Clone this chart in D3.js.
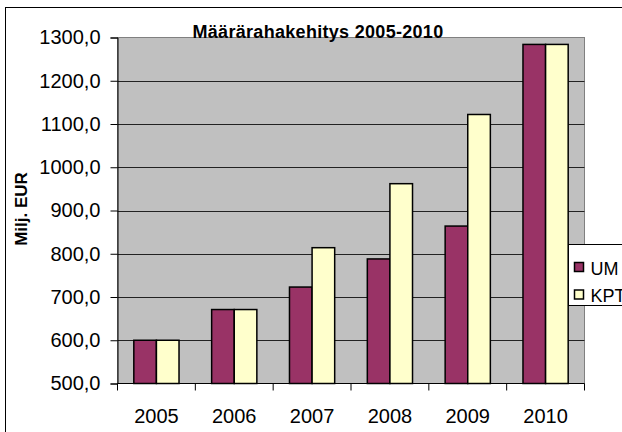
<!DOCTYPE html>
<html>
<head>
<meta charset="utf-8">
<script src="https://cdn.jsdelivr.net/npm/d3@7"></script>
<style>
  body { margin: 0; background: #fff; }
  text { font-family: "Liberation Sans", Arial, sans-serif; }
</style>
</head>
<body>
<div id="vis"></div>
<script>
var years = ["2005", "2006", "2007", "2008", "2009", "2010"];
var seriesNames = ["UM", "KPT"];
var umValues = [600, 671, 723, 788, 864, 1284];
var kptValues = [600, 671, 814, 962, 1122, 1284];
var yTicks = [500, 600, 700, 800, 900, 1000, 1100, 1200, 1300];
var colors = ["#993366", "#ffffcc"];

function draw() {
  var width = 622, height = 432;
  var left = 117.5, right = 584.5, top = 37.5, bottom = 383.5;

  var svg = d3.select("#vis").append("svg")
              .attr("width", width)
              .attr("height", height);

  // outer chart border
  svg.append("rect")
     .attr("x", 5.5).attr("y", 7.5)
     .attr("width", 640).attr("height", 440)
     .attr("fill", "#fff")
     .attr("stroke", "#000");

  var x0 = d3.scaleBand().domain(years).range([left, right]);
  var x1 = d3.scaleBand().domain(seriesNames).range([0, x0.bandwidth()])
             .paddingInner(0).paddingOuter(0.722);
  var y = d3.scaleLinear().domain([500, 1300]).range([bottom, top]);

  // plot area
  svg.append("rect")
     .attr("x", left).attr("y", top)
     .attr("width", right - left).attr("height", bottom - top)
     .attr("fill", "#c0c0c0")
     .attr("stroke", "#808080");

  // gridlines
  svg.append("g").selectAll("line")
     .data(yTicks.slice(1, -1))
     .join("line")
     .attr("x1", left).attr("x2", right)
     .attr("y1", function(d) { return Math.round(y(d)) + 0.5; })
     .attr("y2", function(d) { return Math.round(y(d)) + 0.5; })
     .attr("stroke", "#222");

  var data = years.map(function(yr, i) {
    return { year: yr, values: [umValues[i], kptValues[i]] };
  });

  var groups = svg.append("g").selectAll("g")
     .data(data)
     .join("g")
     .attr("transform", function(d) { return "translate(" + x0(d.year) + ",0)"; });

  groups.selectAll("rect")
     .data(function(d) { return d.values.map(function(v, j) { return { name: seriesNames[j], v: v, j: j }; }); })
     .join("rect")
     .attr("x", function(d) { return x1(d.name); })
     .attr("y", function(d) { return y(d.v); })
     .attr("width", x1.bandwidth())
     .attr("height", function(d) { return bottom - y(d.v); })
     .attr("fill", function(d) { return colors[d.j]; })
     .attr("stroke", "#000")
     .attr("stroke-width", 1.5);

  // y axis
  var yAxis = d3.axisLeft(y).tickValues(yTicks).tickSize(7).tickPadding(10)
                .tickFormat(function(d) { return d3.format(".1f")(d).replace(".", ","); });
  var gy = svg.append("g").attr("transform", "translate(" + left + ",0)").call(yAxis);
  gy.selectAll("text").attr("font-size", 20).attr("fill", "#000")
    .attr("font-family", "Liberation Sans, Arial, sans-serif");
  gy.selectAll("line, path").attr("stroke", "#000");

  // x axis
  var gx = svg.append("g").attr("transform", "translate(0," + bottom + ")");
  gx.append("line").attr("x1", left).attr("x2", right).attr("stroke", "#000");
  gx.selectAll("line.tick")
    .data(years.concat(["end"]))
    .join("line")
    .attr("class", "tick")
    .attr("x1", function(d, i) { return i < years.length ? x0(d) : right; })
    .attr("x2", function(d, i) { return i < years.length ? x0(d) : right; })
    .attr("y1", 0).attr("y2", 7)
    .attr("stroke", "#000");
  gx.selectAll("text")
    .data(years)
    .join("text")
    .attr("x", function(d) { return x0(d) + x0.bandwidth() / 2; })
    .attr("y", 39)
    .attr("text-anchor", "middle")
    .attr("font-size", 20)
    .text(function(d) { return d; });

  // title (overlaps the plot top, as in the original)
  svg.append("text")
     .attr("x", 318).attr("y", 38)
     .attr("text-anchor", "middle")
     .attr("font-size", 18)
     .attr("font-weight", "bold")
     .attr("letter-spacing", 0.3)
     .text("Määrärahakehitys 2005-2010");

  // y axis title
  svg.append("text")
     .attr("transform", "translate(27,209) rotate(-90)")
     .attr("text-anchor", "middle")
     .attr("font-size", 17)
     .attr("font-weight", "bold")
     .text("Milj. EUR");

  // legend
  var lg = svg.append("g");
  lg.append("rect")
    .attr("x", 568.5).attr("y", 244.5)
    .attr("width", 80).attr("height", 61)
    .attr("fill", "#fff").attr("stroke", "#000");
  var items = lg.selectAll("g")
    .data(seriesNames)
    .join("g")
    .attr("transform", function(d, i) { return "translate(574.5," + (262.5 + i * 27.5) + ")"; });
  items.append("rect")
    .attr("width", 9).attr("height", 9)
    .attr("fill", function(d, i) { return colors[i]; })
    .attr("stroke", "#000").attr("stroke-width", 1.5);
  items.append("text")
    .attr("x", 16).attr("y", 12)
    .attr("font-size", 18)
    .text(function(d) { return d; });
}

draw();
</script>
</body>
</html>
